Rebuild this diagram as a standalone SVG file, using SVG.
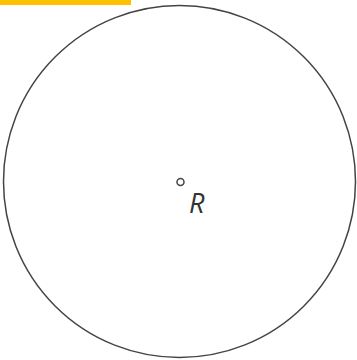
<svg xmlns="http://www.w3.org/2000/svg" width="357" height="360" viewBox="0 0 357 360">
<style>
.ln{fill:none;stroke:#444;stroke-width:1.5}
.lbl{font-family:"Open Sans",sans-serif;font-style:italic;font-size:27px;fill:#333}
</style>
<rect x="0" y="0" width="357" height="360" fill="#fff"/>
<rect x="0" y="0" width="131" height="5" fill="#ffc000"/>
<g id="circle"><circle class="ln" cx="179.5" cy="181.5" r="176"/></g>
<g id="center"><circle class="ln" cx="180.5" cy="182" r="3.5"/></g>
<g id="label"><text class="lbl" x="189" y="213">R</text></g>
</svg>
